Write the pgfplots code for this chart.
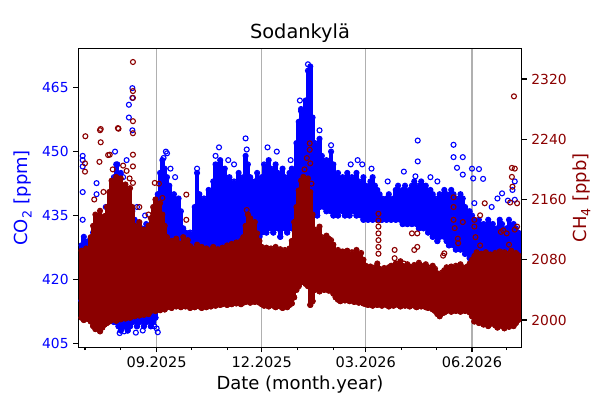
\documentclass[border=0pt]{standalone}
\usepackage{fontspec}
\setmainfont{DejaVu Sans}
\usepackage{pgfplots}
\usepackage{pgfplotstable}
\pgfplotsset{compat=1.18}
\definecolor{co2}{HTML}{0000FF}
\definecolor{ch4}{HTML}{8B0000}
\definecolor{gridc}{HTML}{B0B0B0}

\pgfplotstableread{
d lo hi
-3 415 428
-1 414 430
1 413 427
3 415 429
5 414 428
7 413 431
9 412 430
11 414 433
13 413 431
15 412 434
17 413 432
19 411 435
21 412 437
23 411 440
25 410 444
27 410 447
29 409 443
31 408 445
33 409 441
35 409 438
37 408 440
39 409 437
41 410 436
43 411 434
45 409 433
47 410 431
49 411 432
51 409 430
53 410 433
55 411 431
57 409 430
59 410 429
61 411 432
63 413 440
65 415 445
67 416 448
69 417 446
71 418 444
73 417 442
75 418 438
77 417 440
79 419 437
81 418 439
83 419 436
85 419 432
87 420 431
89 419 430
91 421 431
93 422 430
95 423 437
97 422 445
99 424 440
101 421 437
103 422 439
105 423 436
107 421 441
109 424 438
111 425 443
113 424 447
115 426 445
117 425 448
119 427 443
121 426 446
123 428 442
125 426 444
127 427 441
129 428 443
131 427 440
133 429 445
135 428 442
137 429 444
139 430 449
141 431 447
143 429 444
145 430 441
147 428 443
149 431 445
151 430 442
153 431 444
155 432 447
157 431 445
159 433 448
161 432 446
163 431 444
165 433 447
167 432 445
169 430 443
171 433 446
173 432 444
175 431 442
177 433 445
179 432 446
181 434 443
183 436 452
185 437 457
187 438 460
189 439 458
191 440 462
193 441 469
195 440 470
197 437 458
199 436 452
201 435 450
203 437 453
205 438 449
207 437 447
209 436 448
211 437 446
213 436 450
215 435 447
217 436 444
219 435 445
221 437 443
223 436 444
225 435 442
227 436 445
229 435 443
231 437 444
233 436 442
235 435 445
237 436 443
239 435 441
241 434 444
243 435 442
245 434 441
247 435 443
249 434 444
251 435 442
253 434 441
255 435 440
257 434 439
259 435 438
261 434 439
263 435 440
265 434 438
267 435 439
269 434 441
271 435 442
273 434 440
275 433 441
277 434 442
279 433 440
281 434 441
283 433 442
285 434 443
287 433 441
289 432 442
291 433 443
293 432 441
295 433 442
297 431 440
299 432 441
301 430 440
303 431 439
305 429 438
307 430 440
309 431 439
311 430 441
313 429 440
315 428 439
317 430 441
319 428 440
321 427 439
323 429 438
325 427 440
327 428 439
329 426 437
331 427 436
333 425 436
335 422 435
337 418 434
339 416 433
341 417 434
343 415 432
345 414 433
347 416 431
349 413 434
351 415 432
353 414 433
355 412 431
357 413 432
359 414 434
361 412 433
363 413 431
365 411 432
367 413 434
369 412 430
371 414 433
373 412 432
375 413 431
}\co

\pgfplotstableread{
d lo hi
-3 2003 2092
-1 2000 2088
1 2005 2095
3 2001 2090
5 1998 2110
7 1992 2125
9 1988 2140
11 1995 2120
13 1985 2145
15 1990 2130
17 1994 2138
19 1996 2150
21 1998 2170
23 2000 2185
25 2003 2165
27 1999 2190
29 2004 2175
31 2001 2188
33 2005 2170
35 2002 2180
37 2006 2165
39 2003 2175
41 2007 2150
43 2005 2125
45 2008 2115
47 2006 2130
49 2009 2112
51 2007 2120
53 2010 2108
55 2008 2125
57 2012 2135
59 2014 2150
61 2012 2160
63 2015 2145
65 2013 2155
67 2016 2140
69 2014 2125
71 2017 2110
73 2019 2100
75 2016 2105
77 2020 2098
79 2018 2108
81 2021 2102
83 2017 2095
85 2019 2110
87 2018 2100
89 2020 2106
91 2016 2098
93 2019 2095
95 2017 2092
97 2020 2100
99 2018 2094
101 2016 2097
103 2019 2090
105 2017 2095
107 2020 2088
109 2018 2093
111 2021 2097
113 2019 2090
115 2022 2094
117 2020 2089
119 2021 2096
121 2023 2092
123 2020 2099
125 2022 2094
127 2021 2101
129 2023 2097
131 2022 2103
133 2024 2098
135 2021 2105
137 2023 2110
139 2024 2125
141 2025 2140
143 2023 2135
145 2026 2120
147 2024 2130
149 2025 2115
151 2023 2105
153 2021 2097
155 2019 2093
157 2020 2096
159 2018 2090
161 2021 2095
163 2019 2092
165 2017 2097
167 2020 2091
169 2018 2094
171 2016 2090
173 2019 2093
175 2017 2089
177 2020 2095
179 2022 2105
181 2030 2130
183 2040 2150
185 2045 2172
187 2050 2185
189 2052 2190
191 2048 2182
193 2045 2188
195 2020 2170
197 2025 2140
199 2040 2120
201 2042 2115
203 2038 2124
205 2044 2110
207 2040 2105
209 2043 2112
211 2039 2108
213 2041 2106
215 2035 2100
217 2030 2090
219 2027 2093
221 2025 2087
223 2028 2091
225 2026 2088
227 2029 2092
229 2025 2086
231 2027 2090
233 2024 2087
235 2026 2093
237 2023 2085
239 2025 2089
241 2022 2080
243 2021 2072
245 2020 2068
247 2022 2071
249 2019 2065
251 2021 2070
253 2020 2075
255 2022 2068
257 2019 2064
259 2021 2069
261 2020 2066
263 2018 2070
265 2021 2072
267 2019 2068
269 2022 2075
271 2020 2070
273 2018 2078
275 2021 2072
277 2019 2069
279 2020 2074
281 2018 2071
283 2021 2067
285 2019 2073
287 2017 2070
289 2020 2076
291 2018 2072
293 2019 2068
295 2017 2074
297 2016 2070
299 2018 2066
301 2014 2072
303 2012 2068
305 2008 2062
307 2005 2058
309 2009 2063
311 2010 2066
313 2012 2070
315 2014 2067
317 2011 2071
319 2013 2068
321 2012 2072
323 2014 2069
325 2011 2074
327 2013 2070
329 2012 2068
331 2014 2071
333 2010 2075
335 2005 2080
337 1998 2085
339 2000 2090
341 1996 2082
343 1999 2088
345 1994 2085
347 1997 2090
349 1992 2083
351 1995 2087
353 1998 2084
355 1993 2089
357 1990 2085
359 1996 2091
361 1992 2086
363 1989 2090
365 1994 2084
367 1991 2088
369 1995 2092
371 1992 2085
373 1996 2089
375 2000 2086
}\ch

\pgfplotsset{
  common/.style={
    width=320.45pt, height=216.09pt, scale only axis,
    xmin=-5.8, xmax=378,
    tick align=outside,
    major tick length=3.5pt, minor tick length=2pt,
    every tick/.style={black, line width=0.8pt},
    axis line style={line width=0.8pt},
    /pgf/number format/assume math mode=true,
    /pgf/number format/1000 sep={},
    yticklabel style={font=\fontsize{10}{12}\selectfont},
    xticklabel style={font=\fontsize{10.5}{12}\selectfont},
    label style={font=\fontsize{13}{15}\selectfont},
  },
  band/.style={only marks, mark=none, error bars/.cd, y dir=plus, y explicit, error mark=none,
    error bar style={line width=3.4pt, line cap=round, #1}},
  circ/.style={#1, only marks, mark=o, mark size=1.8pt, mark options={line width=0.8pt, #1}},
}

\begin{document}
\begin{tikzpicture}
\begin{axis}[common,
  at={(0,0)}, anchor=south west,
  ymin=404.06, ymax=474.25,
  ytick={405,420,435,450,465},
  ytick pos=left, xtick pos=bottom,
  yticklabel style={color=co2},
  xtick={62,153,243,335},
  xticklabels={09.2025,12.2025,03.2026,06.2026},
  minor xtick={0,31,92,123,184,215,274,304,365},
  xmajorgrids, major grid style={gridc, line width=0.8pt},
  xlabel={Date (month.year)},
  xlabel style={at={(axis description cs:0.5,-0.1261)}, anchor=center},
  ylabel={CO\textsubscript{2} [ppm]},
  ylabel style={at={(axis description cs:-0.1247,0.5)}, anchor=center, color=co2},
  clip=false,
]
\addplot[co2, band=co2] table[x=d, y=lo, y error plus expr=\thisrow{hi}-\thisrow{lo}] {\co};
\addplot[circ=co2] table[x=d, y=lo] {\co};
\addplot[circ=co2] table[x=d, y=hi] {\co};
\addplot[circ=co2] coordinates {
(-2,449) (-2,448) (-2,446.5) (-2,440.5) (-2,434) (10,442.6) (10,440) (26,450) (30,407.4)
(38,461) (38,458) (41,464.9) (41,462.6) (41,455) (63,407.6) (62,408.5) (71,449.6) (68,448.5)
(97,446) (113,449) (139,453.1) (140,450.5) (186,462) (187,459.5) (193,470.5) (203,455) (213,451.5)
(276,445.3) (288,452.6) (288,447.7) (286,444.2) (319,451.6) (319,448.7) (327,448.7) (322,446.2)
(327,444.6) (335,446) (336,443.7) (337,437.9) (341,445.9) (344.6,443.6) (361,440.2) (366,438.5)
(372,443) (372,438.7) (370,441) (352,437) (357,439) (299,444) (305,443) (262,443) (248,446)
(28,447) (24,441) (18,437) (33,444) (36,448) (45,437) (52,435) (70,450) (74,446) (78,444)
(116,451) (124,448) (129,447) (158,451) (166,450) (178,448) (230,447) (236,448) (240,447)
(60,409) (50,408) (44,407.5) (34,407.8) (370,412) (374,413)
};
\node[font=\fontsize{14}{16}\selectfont, anchor=center] at (axis description cs:0.5,1.0512) {Sodankylä};
\end{axis}
\begin{axis}[common,
  at={(0,0)}, anchor=south west,
  axis x line=none, axis y line*=right,
  ymin=1963.7, ymax=2360.8,
  ytick={2000,2080,2160,2240,2320},
  yticklabel style={color=ch4},
  ylabel={CH\textsubscript{4} [ppb]},
  ylabel style={at={(axis description cs:1.136,0.5)}, anchor=center, rotate=0, color=ch4},
]
\addplot[ch4, band=ch4] table[x=d, y=lo, y error plus expr=\thisrow{hi}-\thisrow{lo}] {\ch};
\addplot[circ=ch4] table[x=d, y=lo] {\ch};
\addplot[circ=ch4] table[x=d, y=hi] {\ch};
\addplot[circ=ch4] coordinates {
(41.5,2342.6) (41.5,2304) (41.5,2295) (41.5,2264) (41.5,2248) (41.5,2219.5) (41.5,2204)
(0.3,2244) (13.6,2253.6) (13.6,2236) (28.5,2254.8) (21.4,2219.5) (0,2208) (0,2197) (12.5,2210)
(38.6,2188) (41.5,2182) (60.4,2182) (87.7,2166.5) (87.7,2133) (13,2252) (20,2219) (29,2254)
(64,2181) (140,2146) (194.5,2234.6) (194.5,2226) (195,2208) (196,2181) (192,2215) (190,2200)
(254,2141) (254,2132) (254,2124) (254,2115) (254,2106) (254,2097) (254,2088)
(268,2093) (268,2082) (287.6,2115) (287.6,2097) (276,2075) (283,2115) (285,2093)
(310,2085.4) (311,2088.5) (319,2163) (319,2150) (319,2133) (320,2122) (322.7,2108) (323,2102) (327,2130)
(337,2133) (337,2124) (338,2110) (342,2139) (342,2099) (346,2155) (347,2082)
(360,2117) (362,2119) (365,2115) (367,2100) (368,2156) (369.5,2202) (369.5,2190) (370,2177)
(371.3,2297) (372,2201) (374,2155) (374,2124) (372,2120) (369,2086)
(8,2160) (16,2170) (24,2200) (33,2205) (36,2198) (47,2150) (55,2140) (67,2162)
};
\end{axis}
\pgfresetboundingbox
\useasboundingbox (-56.59pt,-38.09pt) rectangle (377.04pt,251.0pt);
\end{tikzpicture}
\end{document}
